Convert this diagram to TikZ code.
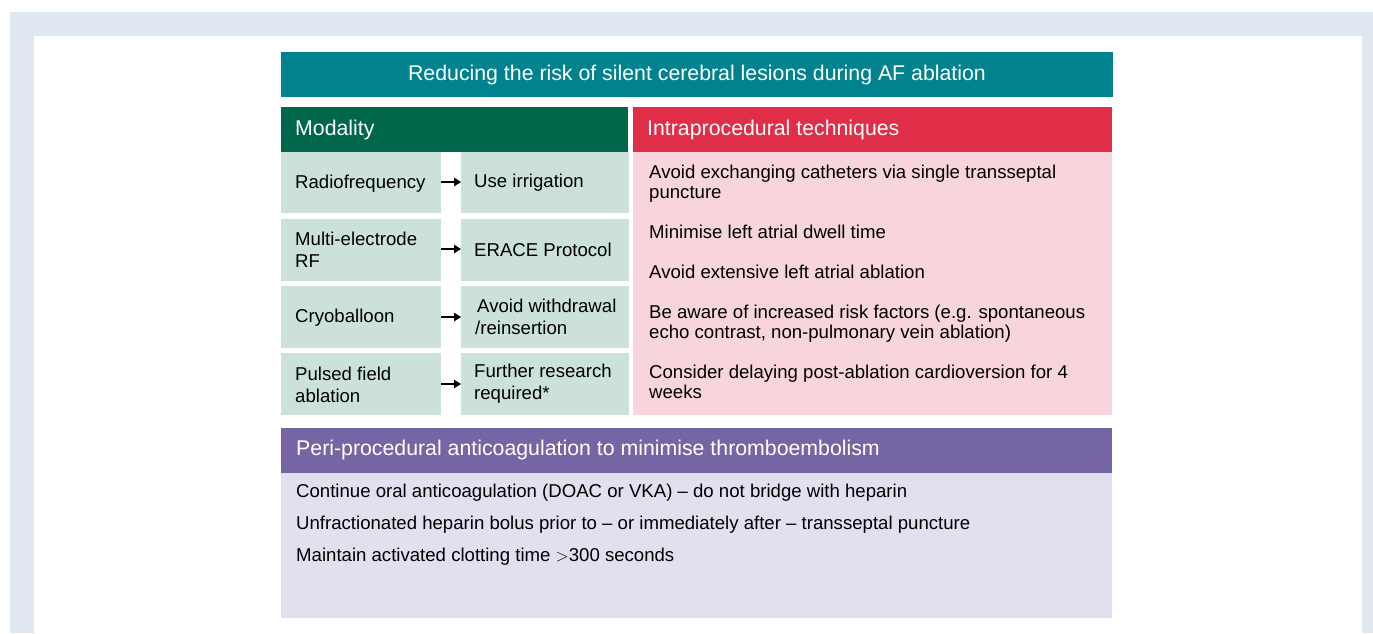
\documentclass[tikz,border=0pt]{standalone}
\usepackage{fontspec}
\setmainfont{Liberation Sans}
\usetikzlibrary{arrows.meta}
\definecolor{outerbg}{HTML}{DFE8F1}
\definecolor{teal}{HTML}{00838F}
\definecolor{dkgreen}{HTML}{00674A}
\definecolor{hred}{HTML}{E02D48}
\definecolor{pinkbg}{HTML}{F8D5DC}
\definecolor{ltgreen}{HTML}{CBE1DA}
\definecolor{purple}{HTML}{7665A4}
\definecolor{lavender}{HTML}{E2E0EE}
\begin{document}
\begin{tikzpicture}[x=1pt,y=-1pt,
  hdr/.style={anchor=base west,inner sep=0pt,text=white,font=\fontsize{21.3}{24}\selectfont},
  body/.style={anchor=base west,inner sep=0pt,align=left,text=black,font=\fontsize{18.6}{21.8}\selectfont},
  rbody/.style={anchor=base west,inner sep=0pt,align=left,text=black,font=\fontsize{18.6}{20}\selectfont},
  cellbox/.style={fill=ltgreen},
  arr/.style={-{Triangle[length=7pt,width=8.5pt]},line width=1.2pt,black}]
\useasboundingbox (0,0) rectangle (1373,633);
% background frame
\fill[white] (0,0) rectangle (1373,633);
\fill[outerbg] (10,12) rectangle (1373,633);
\fill[white] (34,36) rectangle (1362,633);
% title
\fill[teal] (281,52) rectangle (1113,97);
\node[hdr,anchor=base] (title) at (697,80) {Reducing the risk of silent cerebral lesions during AF ablation};
% headers
\fill[dkgreen] (281,107) rectangle (628,152);
\node[hdr] (modh) at (295,135) {Modality};
\fill[hred] (633,107) rectangle (1112,152);
\node[hdr] (intrh) at (647,135) {Intraprocedural techniques};
% left cells
\fill[cellbox] (281,152) rectangle (441,213);
\fill[cellbox] (461,152) rectangle (629,213);
\fill[cellbox] (281,219) rectangle (441,281);
\fill[cellbox] (461,219) rectangle (629,281);
\fill[cellbox] (281,286) rectangle (441,348);
\fill[cellbox] (461,286) rectangle (629,348);
\fill[cellbox] (281,353) rectangle (441,415);
\fill[cellbox] (461,353) rectangle (629,415);
\node[body] (m1) at (295,188) {Radiofrequency};
\node[body] (m2) at (295,267) {Multi-electrode\\RF};
\node[body] (m3) at (295,322) {Cryoballoon};
\node[body] (m4) at (295,402) {Pulsed field\\ablation};
\node[body] (r1) at (474,187) {Use irrigation};
\node[body] (r2) at (474,256) {ERACE Protocol};
\node[body] (r3) at (475,334) {\hspace*{2pt}Avoid withdrawal\\/reinsertion};
\node[body] (r4) at (474,399) {Further research\\required*};
\coordinate (a1s) at (441,182); \coordinate (a1e) at (461,182);
\coordinate (a2s) at (441,249); \coordinate (a2e) at (461,249);
\coordinate (a3s) at (441,317); \coordinate (a3e) at (461,317);
\coordinate (a4s) at (441,384); \coordinate (a4e) at (461,384);
\draw[arr] (a1s) -- (a1e);
\draw[arr] (a2s) -- (a2e);
\draw[arr] (a3s) -- (a3e);
\draw[arr] (a4s) -- (a4e);
% right pink panel
\fill[pinkbg] (633,152) rectangle (1112,415);
\node[rbody] (t1) at (649,198) {Avoid exchanging catheters via single transseptal\\puncture};
\node[rbody] (t2) at (649,238) {Minimise left atrial dwell time};
\node[rbody] (t3) at (649,278) {Avoid extensive left atrial ablation};
\node[rbody] (t4) at (649,338) {Be aware of increased risk factors (e.g. spontaneous\\echo contrast, non-pulmonary vein ablation)};
\node[rbody] (t5) at (649,398) {Consider delaying post-ablation cardioversion for 4\\weeks};
% bottom panel
\fill[purple] (281,428) rectangle (1112,473);
\node[hdr] (perih) at (296,455) {Peri-procedural anticoagulation to minimise thromboembolism};
\fill[lavender] (281,473) rectangle (1112,618);
\node[body] (b1) at (296,497) {Continue oral anticoagulation (DOAC or VKA) – do not bridge with heparin};
\node[body] (b2) at (296,529) {Unfractionated heparin bolus prior to – or immediately after – transseptal puncture};
\node[body] (b3) at (296,561) {Maintain activated clotting time {\fontsize{16}{16}\selectfont$>$}300 seconds};
\end{tikzpicture}
\end{document}
